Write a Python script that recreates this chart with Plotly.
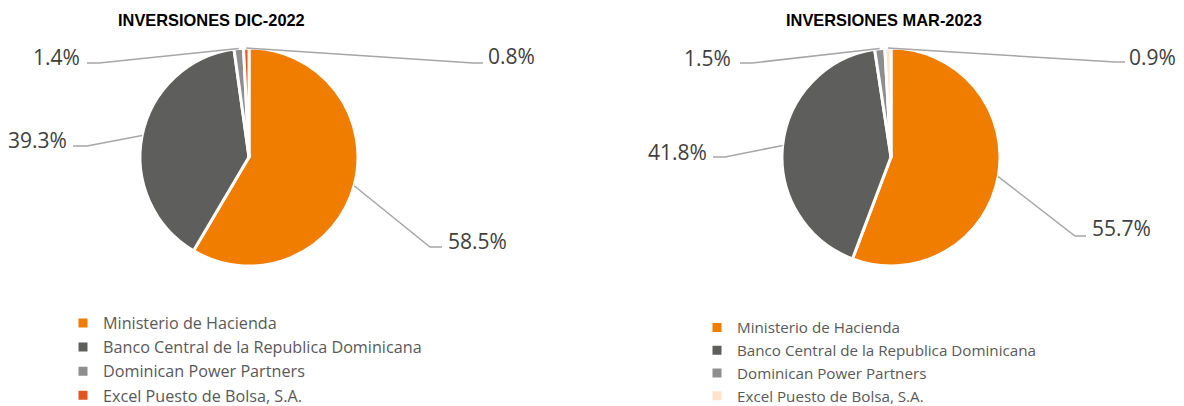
import math
import plotly.graph_objects as go

W, H = 1184, 406
OFF = 8  # default page body margin
FW, FH = W - OFF, H - OFF

labels = ["Ministerio de Hacienda", "Banco Central de la Republica Dominicana",
          "Dominican Power Partners", "Excel Puesto de Bolsa, S.A."]
dic2022_values = [58.5, 39.3, 1.4, 0.8]
mar2023_values = [55.7, 41.8, 1.5, 0.9]
titles = ["INVERSIONES DIC-2022", "INVERSIONES MAR-2023"]

colors_left = ["#F07D00", "#5E5E5C", "#8E8E8E", "#E5541B"]
colors_right = ["#F07D00", "#5E5E5C", "#8E8E8E", "#FCE3CA"]

# layout (pixels): pie box, title pos, label placement (elbow x, line y, end x, text x, text y, side)
pie_boxes = [(140, 48, 358, 266), (782, 48, 1000, 266)]
title_pos = [(211, 20), (884, 20)]
label_layout = [
    [(430, 247, 442, 446, 241, "left"),
     (87, 146, 73, 69, 140, "right"),
     (99, 63, 87, 82, 57, "right"),
     (473, 63, 483, 486, 56, "left")],
    [(1075, 236, 1086, 1090, 228, "left"),
     (725, 157, 713, 709, 152, "right"),
     (752, 63, 740, 733, 58, "right"),
     (1115, 62, 1125, 1127, 57, "left")],
]
legend_pos = [(63, 306, 16.2), (697, 311, 15.2)]

LINE_COLOR = "#A6A6A6"
TEXT_COLOR = "#404040"


def px(x):
    return (x - OFF) / FW


def py(y):
    return 1 - (y - OFF) / FH


fig = go.Figure()
shapes = []
annotations = []

for i, (vals, cols) in enumerate([(dic2022_values, colors_left), (mar2023_values, colors_right)]):
    x0, y0, x1, y1 = pie_boxes[i]
    # trailing space keeps the second legend's entries distinct from the first's
    trace_labels = labels if i == 0 else [lab + " " for lab in labels]
    fig.add_trace(go.Pie(
        labels=trace_labels, values=vals, sort=False, direction="clockwise", rotation=0,
        marker=dict(colors=cols, line=dict(color="white", width=3)),
        textinfo="none", hoverinfo="label+percent",
        domain=dict(x=[px(x0), px(x1)], y=[py(y1), py(y0)]),
        legend="legend" if i == 0 else "legend2",
        showlegend=True,
    ))
    cx, cy = (x0 + x1) / 2, (y0 + y1) / 2
    r = min(x1 - x0, y1 - y0) / 2
    total = sum(vals)
    cum = 0
    for j, v in enumerate(vals):
        theta = 2 * math.pi * (cum + v / 2) / total
        cum += v
        sx = cx + r * math.sin(theta)
        sy = cy - r * math.cos(theta)
        ex, ey, endx, tx, ty, side = label_layout[i][j]
        path = f"M {px(sx)} {py(sy)} L {px(ex)} {py(ey)} L {px(endx)} {py(ey)}"
        shapes.append(dict(type="path", xref="paper", yref="paper", path=path,
                           line=dict(color=LINE_COLOR, width=1.5)))
        annotations.append(dict(
            x=px(tx), y=py(ty), xref="paper", yref="paper",
            text=f"{v:.1f}%", showarrow=False,
            xanchor="left" if side == "left" else "right", yanchor="middle",
            font=dict(family="Open Sans", size=21, color=TEXT_COLOR)))
    tx, ty = title_pos[i]
    annotations.append(dict(
        x=px(tx), y=py(ty), xref="paper", yref="paper", text=f"<b>{titles[i]}</b>",
        showarrow=False, xanchor="center", yanchor="middle",
        font=dict(family="Liberation Sans", size=16.4, color="#000000")))


def legend_cfg(lx, ly, size):
    return dict(x=px(lx), y=py(ly), xanchor="left", yanchor="top",
                bgcolor="rgba(0,0,0,0)",
                font=dict(family="Open Sans", size=size, color="#595959"),
                orientation="v", itemclick=False, itemdoubleclick=False)


fig.update_layout(
    width=FW, height=FH,
    margin=dict(l=0, r=0, t=0, b=0, autoexpand=False),
    paper_bgcolor="white", plot_bgcolor="white",
    shapes=shapes, annotations=annotations,
    legend=legend_cfg(*legend_pos[0]),
    legend2=legend_cfg(*legend_pos[1]),
)

fig.write_html("out.html")
